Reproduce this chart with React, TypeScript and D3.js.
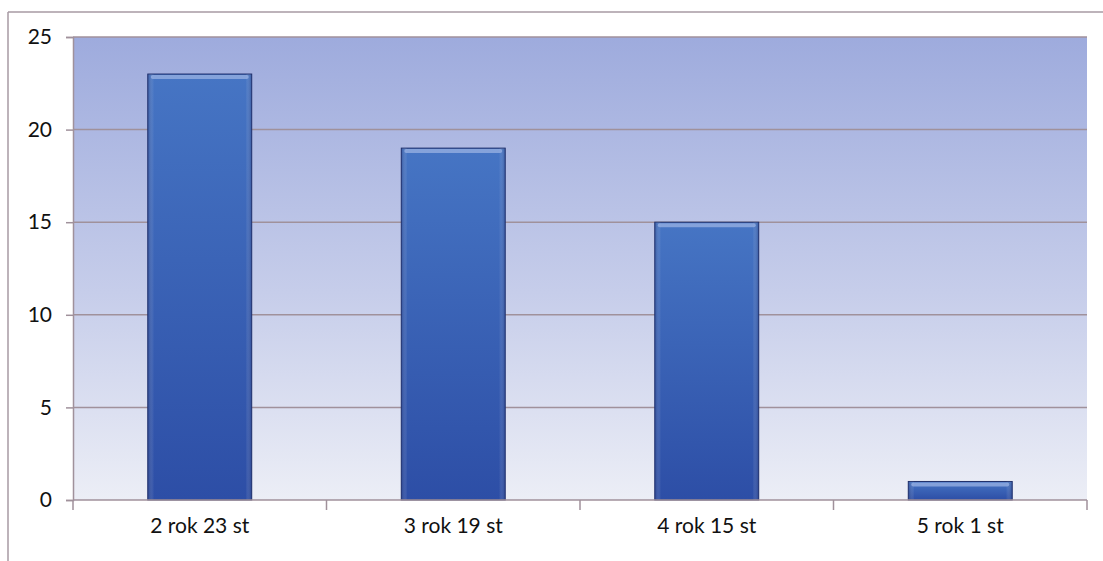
import { useEffect, useRef } from "react";
import * as d3 from "d3";

// students per year of study
const categories = ["2 rok 23 st", "3 rok 19 st", "4 rok 15 st", "5 rok 1 st"];
const values = [23, 19, 15, 1];
const yTicks = [0, 5, 10, 15, 20, 25];

export default function App() {
  const svgRef = useRef<SVGSVGElement>(null);

  useEffect(() => {
    const width = 1103;
    const height = 561;
    const margin = { top: 37, right: 16, bottom: 61, left: 73 };
    const innerW = width - margin.left - margin.right;
    const innerH = height - margin.top - margin.bottom;
    const font = "Lato, 'Open Sans', sans-serif";

    const svg = d3.select(svgRef.current);
    svg.selectAll("*").remove();
    svg.attr("width", width).attr("height", height);

    const defs = svg.append("defs");
    const bg = defs.append("linearGradient").attr("id", "bg").attr("x1", 0).attr("y1", 0).attr("x2", 0).attr("y2", 1);
    bg.append("stop").attr("offset", "0%").attr("stop-color", "#9eabdd");
    bg.append("stop").attr("offset", "55%").attr("stop-color", "#c6cdea");
    bg.append("stop").attr("offset", "100%").attr("stop-color", "#eceef6");

    const bar = defs.append("linearGradient").attr("id", "bar").attr("x1", 0).attr("y1", 0).attr("x2", 0).attr("y2", 1);
    bar.append("stop").attr("offset", "0%").attr("stop-color", "#4675c4");
    bar.append("stop").attr("offset", "100%").attr("stop-color", "#2d4ea6");

    const shine = defs.append("linearGradient").attr("id", "shine").attr("x1", 0).attr("y1", 0).attr("x2", 1).attr("y2", 0);
    shine.append("stop").attr("offset", "0%").attr("stop-color", "#1c2f6e").attr("stop-opacity", 0.4);
    shine.append("stop").attr("offset", "6%").attr("stop-color", "#ffffff").attr("stop-opacity", 0);
    shine.append("stop").attr("offset", "94%").attr("stop-color", "#ffffff").attr("stop-opacity", 0);
    shine.append("stop").attr("offset", "100%").attr("stop-color", "#1c2f6e").attr("stop-opacity", 0.4);

    // outer frame
    svg.append("rect").attr("width", width).attr("height", height).attr("fill", "#ffffff");
    svg.append("line").attr("x1", 8).attr("x2", width).attr("y1", 12).attr("y2", 12)
      .attr("stroke", "#a79aa3").attr("stroke-width", 1.5);
    svg.append("line").attr("x1", 8).attr("x2", 8).attr("y1", 12).attr("y2", height)
      .attr("stroke", "#a79aa3").attr("stroke-width", 1.5);

    const x = d3.scaleBand().domain(categories).range([0, innerW]).paddingInner(0.59).paddingOuter(0.295);
    const y = d3.scaleLinear().domain([0, 25]).range([innerH, 0]);

    const g = svg.append("g").attr("transform", `translate(${margin.left},${margin.top})`);

    g.append("rect").attr("width", innerW).attr("height", innerH).attr("fill", "url(#bg)");

    g.selectAll(".grid")
      .data(yTicks.filter((d) => d > 0))
      .join("line")
      .attr("class", "grid")
      .attr("x1", 0)
      .attr("x2", innerW)
      .attr("y1", (d) => y(d))
      .attr("y2", (d) => y(d))
      .attr("stroke", "#a0919b")
      .attr("stroke-width", 1.5);

    const bars = g.selectAll(".bar").data(categories).join("g").attr("class", "bar");
    bars.append("rect")
      .attr("x", (d) => x(d)!)
      .attr("y", (_, i) => y(values[i]))
      .attr("width", x.bandwidth())
      .attr("height", (_, i) => innerH - y(values[i]))
      .attr("fill", "url(#bar)")
      .attr("stroke", "#1f2f6a")
      .attr("stroke-width", 1);
    bars.append("rect")
      .attr("x", (d) => x(d)!)
      .attr("y", (_, i) => y(values[i]))
      .attr("width", x.bandwidth())
      .attr("height", (_, i) => innerH - y(values[i]))
      .attr("fill", "url(#shine)");
    bars.append("rect")
      .attr("x", (d) => x(d)! + 3)
      .attr("y", (_, i) => y(values[i]) + 1)
      .attr("width", x.bandwidth() - 6)
      .attr("height", 4)
      .attr("rx", 2)
      .attr("fill", "#9fb6e6")
      .attr("opacity", 0.7);

    // y axis
    const yAxis = g.append("g").call(d3.axisLeft(y).tickValues(yTicks).tickSize(7).tickPadding(14));
    yAxis.select(".domain").attr("stroke", "#a0919b").attr("stroke-width", 1.5);
    yAxis.selectAll(".tick line").attr("stroke", "#a0919b").attr("stroke-width", 1.5);
    yAxis.selectAll("text").attr("font-family", font).attr("font-size", 21).attr("fill", "#111");

    // x axis with boundary ticks
    const xAxis = g.append("g").attr("transform", `translate(0,${innerH})`);
    xAxis.append("line").attr("x1", 0).attr("x2", innerW).attr("stroke", "#a0919b").attr("stroke-width", 1.5);
    const bounds = d3.range(categories.length + 1).map((i) => (i * innerW) / categories.length);
    xAxis.selectAll(".btick").data(bounds).join("line")
      .attr("class", "btick")
      .attr("x1", (d) => d).attr("x2", (d) => d)
      .attr("y1", 0).attr("y2", 10)
      .attr("stroke", "#a0919b").attr("stroke-width", 1.5);
    xAxis.selectAll(".lbl").data(categories).join("text")
      .attr("class", "lbl")
      .attr("x", (d) => x(d)! + x.bandwidth() / 2)
      .attr("y", 33)
      .attr("text-anchor", "middle")
      .attr("font-family", font)
      .attr("font-size", 21)
      .attr("fill", "#111")
      .text((d) => d);
  }, []);

  return (
    <div style={{ position: "absolute", left: 0, top: 0 }}>
      <svg ref={svgRef} style={{ display: "block" }} />
    </div>
  );
}
